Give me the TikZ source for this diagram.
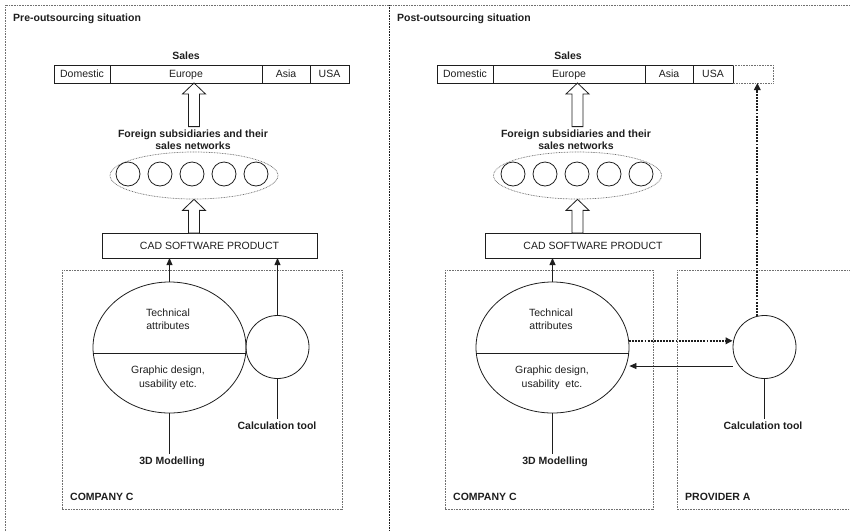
\documentclass[tikz,border=0pt]{standalone}
\usepackage{fontspec}
\setmainfont{Liberation Sans}
\usetikzlibrary{
calc,
positioning,
shapes.geometric,
arrows.meta
}
\definecolor{ink}{HTML}{1E1E1E}
\definecolor{frame}{HTML}{707070}

\tikzset{
base/.style={font=\fontsize{10.5}{12}\selectfont, text=ink},
bold/.style={font=\fontsize{10.5}{12}\selectfont\bfseries, text=ink},
cell/.style={base, draw=ink, line width=0.8pt, outer sep=0pt, inner sep=0pt, minimum height=18, text height=7.6pt, text depth=0.4pt},
net/.style={ellipse, draw=frame, dash pattern=on 0.8pt off 0.8pt, line width=0.7pt, minimum width=168, minimum height=47, inner sep=0pt},
shop/.style={circle, draw=ink, line width=0.8pt, minimum size=24, inner sep=0pt},
oval/.style={ellipse, draw=ink, line width=0.8pt, minimum width=153, minimum height=131, inner sep=0pt},
tool/.style={circle, draw=ink, line width=0.8pt, minimum size=63, inner sep=0pt},
wire/.style={draw=ink, line width=0.8pt},
arr/.style={wire, -{Triangle[length=7pt,width=6pt]}},
dotarr/.style={draw=ink, line width=1.9pt, dash pattern=on 1.9pt off 1.2pt, -{Triangle[length=7pt,width=6.5pt]}},
boxdot/.style={draw=frame, dash pattern=on 0.8pt off 0.8pt, line width=0.8pt},
block/.style={draw=ink, line width=0.8pt, fill=white}
}

% hollow upward arrow: #1 gives the foot level, #2 the tip
\newcommand{\blockup}[2]{%
\draw[block] let \p1=(#1), \p2=(#2) in
(\x2-5.5pt,\y1) -- (\x2-5.5pt,\y2-11pt) -- (\x2-11.5pt,\y2-11pt) -- (\x2,\y2)
-- (\x2+11.5pt,\y2-11pt) -- (\x2+5.5pt,\y2-11pt) -- (\x2+5.5pt,\y1) -- cycle;}

\begin{document}
\begin{tikzpicture}[x=1pt,y=-1pt]
\useasboundingbox (0,0) rectangle (850,531);

% outer frame and the split between both situations
\draw[boxdot] (5.5,531) -- (5.5,5) -- (850,5);
\draw[draw=ink, dash pattern=on 0.8pt off 0.8pt, line width=0.9pt] (389,5) -- (389,531);

%%% before outsourcing
\node[bold, anchor=west, inner sep=0pt] (titleL) at (13,19) {Pre-outsourcing situation};

\node[bold] (salesL) at (186,56) {Sales};
\node[cell, minimum width=56, anchor=west] (domL) at (54,74) {Domestic};
\node[cell, minimum width=152, right=0pt of domL] (eurL) {Europe};
\node[cell, minimum width=48, right=0pt of eurL] (asiaL) {Asia};
\node[cell, minimum width=39, right=0pt of asiaL] (usaL) {USA};

\node[bold, align=center] (subsL) at (193,140) {Foreign subsidiaries and their\\sales networks};
\node[net] (netL) at (194,175.5) {};
\foreach \i in {0,...,4}
\node[shop] (shopL\i) at (128+32*\i,174) {};

\node[cell, minimum width=215, minimum height=25] (cadL) at (209.5,245.5) {CAD SOFTWARE PRODUCT};

\blockup{subsL.north}{eurL.south -| netL}
\blockup{cadL.north}{netL.south}

\draw[boxdot] (62,270) rectangle (342,509);
\node[bold, anchor=west, inner sep=0pt] (compL) at (70,497) {COMPANY C};

\node[oval] (attrL) at (169.5,347.5) {};
\draw[wire] ($(attrL.center)+(-76.2,6)$) -- ($(attrL.center)+(76.2,6)$);
\node[base, align=center, font=\fontsize{10.5}{13.5}\selectfont] (techL) at (168,319) {Technical\\attributes};
\node[base, align=center, font=\fontsize{10.5}{13.5}\selectfont] (gfxL) at (168,378) {Graphic design,\\usability etc.};
\node[tool] (calcL) at (277.5,347) {};

\node[bold] (modL) at (172,462) {3D Modelling};
\node[bold] (toolL) at (277,426) {Calculation tool};

\draw[arr] (attrL.north) -- (attrL.north |- cadL.south);
\draw[arr] (calcL.north) -- (calcL.north |- cadL.south);
\draw[wire] (attrL.south) -- (attrL.south |- modL.north);
\draw[wire] (calcL.south) -- (calcL.south |- toolL.north);

%%% after outsourcing
\node[bold, anchor=west, inner sep=0pt] (titleR) at (397,19) {Post-outsourcing situation};

\node[bold] (salesR) at (568,56) {Sales};
\node[cell, minimum width=56, anchor=west] (domR) at (437,74) {Domestic};
\node[cell, minimum width=152, right=0pt of domR] (eurR) {Europe};
\node[cell, minimum width=48, right=0pt of eurR] (asiaR) {Asia};
\node[cell, minimum width=40, right=0pt of asiaR] (usaR) {USA};
\node[cell, draw=none, minimum width=40, right=0pt of usaR] (newR) {};
\draw[boxdot] (newR.north west) -- (newR.north east) -- (newR.south east) -- (newR.south west);

\node[bold, align=center] (subsR) at (576,140) {Foreign subsidiaries and their\\sales networks};
\node[net] (netR) at (577.5,175.5) {};
\foreach \i in {0,...,4}
\node[shop] (shopR\i) at (513+32*\i,174) {};

\node[cell, minimum width=215, minimum height=25] (cadR) at (593,245.5) {CAD SOFTWARE PRODUCT};

\blockup{subsR.north}{eurR.south -| netR}
\blockup{cadR.north}{netR.south}

\draw[boxdot] (445,270) rectangle (653,509);
\node[bold, anchor=west, inner sep=0pt] (compR) at (453,497) {COMPANY C};
\draw[boxdot] (851,270) -- (677,270) -- (677,509) -- (851,509);
\node[bold, anchor=west, inner sep=0pt] (provR) at (685,497) {PROVIDER A};

\node[oval] (attrR) at (552.5,347.5) {};
\draw[wire] ($(attrR.center)+(-76.2,6)$) -- ($(attrR.center)+(76.2,6)$);
\node[base, align=center, font=\fontsize{10.5}{13.5}\selectfont] (techR) at (551,319) {Technical\\attributes};
\node[base, align=center, font=\fontsize{10.5}{13.5}\selectfont] (gfxR) at (552,378) {Graphic design,\\usability\ \ etc.};
\node[tool] (calcR) at (764.5,347) {};

\node[bold] (modR) at (555,462) {3D Modelling};
\node[bold] (toolR) at (763,426) {Calculation tool};

\draw[arr] (attrR.north) -- (attrR.north |- cadR.south);
\draw[wire] (attrR.south) -- (attrR.south |- modR.north);
\draw[wire] (calcR.south) -- (calcR.south |- toolR.north);

% the provider's tool is sold on its own and fed back into the product
\draw[dotarr] (attrR.5) -- (attrR.5 -| calcR.west);
\coordinate (back) at ($(calcR.west)+(0,19)$);
\draw[arr] (back) -- (back -| attrR.east);
\draw[dotarr] (calcR.103) -- (calcR.103 |- newR.south);

\end{tikzpicture}
\end{document}
